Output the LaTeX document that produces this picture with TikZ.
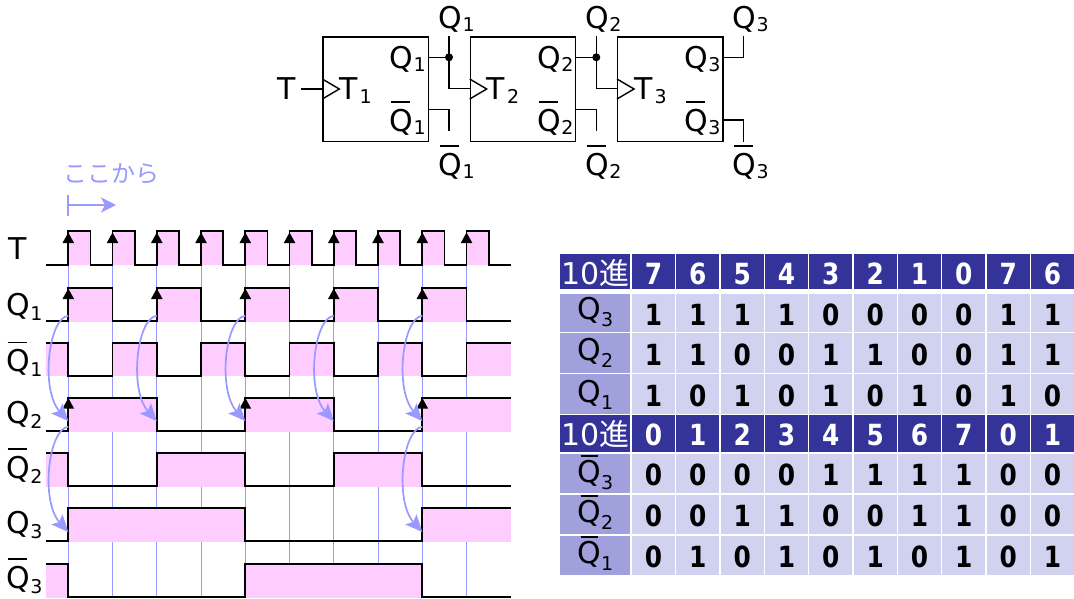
\documentclass[tikz,border=0pt]{standalone}
\usepackage{graphicx}
\usepackage{fontspec}
\setmainfont{DejaVu Sans}
\newfontfamily\cjkf{Noto Sans CJK JP}
\usetikzlibrary{arrows.meta}
\definecolor{pinkf}{HTML}{FFCCFF}
\definecolor{lblue}{HTML}{9999FF}
\definecolor{hdrc}{HTML}{333399}
\definecolor{labc}{HTML}{A0A0DC}
\definecolor{cellc}{HTML}{D1D1F0}
\newcommand\bigf{\fontsize{30}{32}\selectfont}
\newcommand\subf{\fontsize{19}{21}\selectfont}
\newcommand\Qs[2]{Q\kern0.5pt\raisebox{-#2pt}{\subf #1}}
\newcommand\Qb[2]{\makebox[0pt][l]{\kern1.5pt\raisebox{28.5pt}{\rule{19pt}{1.6pt}}}\Qs{#1}{#2}}
\newcommand\Qt[2]{\makebox[0pt][l]{\kern3.5pt\raisebox{25pt}{\rule{17pt}{1.8pt}}}\Qs{#1}{#2}}
\newcommand\dg[1]{\scalebox{0.92}[1.08]{#1}}
\tikzset{
 x=1pt,y=-1pt,
 txt/.style={anchor=base west,inner sep=0pt,font=\bigf,text=black},
 ffbox/.style={draw=black,line width=1.4pt,minimum width=105.3pt,minimum height=104.7pt,inner sep=0pt,anchor=north west},
 conn/.style={line width=1.4pt,black},
 wave/.style={line width=1.7pt,black,line join=miter},
 vline/.style={line width=1.1pt,lblue},
 carrow/.style={line width=1.7pt,lblue,-{Stealth[length=17pt,width=15pt,inset=3.5pt]}},
 hdr/.style={fill=hdrc,text=white,anchor=base,inner sep=0pt,font=\fontsize{27}{30}\selectfont\bfseries},
 hdrl/.style={fill=hdrc,text=white,anchor=base,inner sep=0pt,font=\fontsize{30}{32}\selectfont,minimum width=70.3pt},
 cellb/.style={fill=cellc,text=black,anchor=base,inner sep=0pt,font=\fontsize{27}{30}\selectfont\bfseries},
 labb/.style={fill=labc,text=black,anchor=base,inner sep=0pt,font=\bigf,minimum width=70.3pt},
}
\newcommand\tip[2]{\fill[black] (#1,#2) -- (#1+5.8,#2+10.5) -- (#1-5.8,#2+10.5) -- cycle;}
\begin{document}
\begin{tikzpicture}
\useasboundingbox (0,0) rectangle (1074,598);
% flip-flops
\foreach \n/\bx/\ql/\qx/\tx/\tl/\ex in {1/322.3/389.3/438.3/339/1/449,2/469.7/537/585/486.7/2/596.3,3/617/684/732.3/634/3/743.7}{
  \node[ffbox] (ff\n) at (\bx,36.3) {};
  \node[txt] (qin\n) at (\ql,68) {\Qs{\n}{3}};
  \node[txt] (qbin\n) at (\ql,131.5) {\Qb{\n}{3}};
  \node[txt] (qout\n) at (\qx,28.3) {\Qs{\n}{3}};
  \node[txt] (qbout\n) at (\qx,175) {\Qb{\n}{3}};
  \node[txt] (tin\n) at (\tx,99) {T\kern2pt\raisebox{-4pt}{\subf\n}};
  \draw[conn] (\bx,79) -- (\bx+17,89) -- (\bx,99);
}
\node[txt] (tlab) at (277,99) {T};
\coordinate (tstart) at (301,89);
\draw[conn] (tstart) -- (322.3,89);
% connections
\coordinate (j1) at (449,57.3);
\coordinate (j2) at (596.3,57.3);
\draw[conn] (427.7,57.3) -- (j1);
\draw[conn] (449,36) -- (j1) |- (469.7,88.7);
\fill[black] (j1) circle (4);
\draw[conn] (575,57.3) -- (j2);
\draw[conn] (596.3,36) -- (j2) |- (617,88.7);
\fill[black] (j2) circle (4);
\draw[conn] (722.3,57.3) -| (743.7,36);
\draw[conn] (427.7,109.3) -| (449,130.7);
\draw[conn] (575,109.3) -| (596.3,130.7);
\draw[conn] (722.3,120) -| (743.7,141.7);
% start marker
\node[inner sep=0pt,anchor=base,text=lblue,font=\cjkf\fontsize{24}{26}\selectfont] (koko) at (111.5,182) {ここから};
\draw[line width=1.4pt,lblue] (68,195) -- (68,215.7);
\draw[line width=1.4pt,lblue,-{Stealth[length=15pt,width=15pt,inset=4pt]}] (68,205) -- (116,205);
% vertical guides
\foreach \k in {0,...,9}{
  \pgfmathsetmacro\xx{68.3+44.25*\k}
  \draw[vline] (\xx,232) -- (\xx,598);
}
% pink
\foreach \k in {0,...,9}{
  \pgfmathsetmacro\xx{68.3+44.25*\k}
  \fill[pinkf] (\xx,231.3) rectangle (\xx+22.1,265);
}
\foreach \a/\b in {68.3/112.55,156.8/201.05,245.3/289.55,333.8/378.05,422.3/466.55}
  \fill[pinkf] (\a,288.3) rectangle (\b,322);
\foreach \a/\b in {45.7/68.3,112.55/156.8,201.05/245.3,289.55/333.8,378.05/422.3,466.55/511.3}
  \fill[pinkf] (\a,342.7) rectangle (\b,376.4);
\foreach \a/\b in {68.3/156.8,245.3/333.8,422.3/511.3}
  \fill[pinkf] (\a,397.7) rectangle (\b,431.7);
\foreach \a/\b in {45.7/68.3,156.8/245.3,333.8/422.3}
  \fill[pinkf] (\a,453) rectangle (\b,487);
\foreach \a/\b in {68.3/245.3,422.3/511.3}
  \fill[pinkf] (\a,508.3) rectangle (\b,542);
\foreach \a/\b in {45.7/68.3,245.3/422.3}
  \fill[pinkf] (\a,563.7) rectangle (\b,598);
% waves
\draw[wave] (45.7,265) -| (68.3,231.3) -| (90.4,265) -| (112.55,231.3) -| (134.65,265) -| (156.8,231.3) -| (178.9,265) -| (201.05,231.3) -| (223.15,265) -| (245.3,231.3) -| (267.4,265) -| (289.55,231.3) -| (311.65,265) -| (333.8,231.3) -| (355.9,265) -| (378.05,231.3) -| (400.15,265) -| (422.3,231.3) -| (444.4,265) -| (466.55,231.3) -| (488.65,265) -- (511.3,265);
\draw[wave] (45.7,321.3) -| (68.3,288.3) -| (112.55,321.3) -| (156.8,288.3) -| (201.05,321.3) -| (245.3,288.3) -| (289.55,321.3) -| (333.8,288.3) -| (378.05,321.3) -| (422.3,288.3) -| (466.55,321.3) -- (511.3,321.3);
\draw[wave] (45.7,342.7) -| (68.3,375.7) -| (112.55,342.7) -| (156.8,375.7) -| (201.05,342.7) -| (245.3,375.7) -| (289.55,342.7) -| (333.8,375.7) -| (378.05,342.7) -| (422.3,375.7) -| (466.55,342.7) -- (511.3,342.7);
\draw[wave] (45.7,431) -| (68.3,397.7) -| (156.8,431) -| (245.3,397.7) -| (333.8,431) -| (422.3,397.7) -- (511.3,397.7);
\draw[wave] (45.7,453) -| (68.3,486.3) -| (156.8,453) -| (245.3,486.3) -| (333.8,453) -| (422.3,486.3) -- (511.3,486.3);
\draw[wave] (45.7,541.3) -| (68.3,508.3) -| (245.3,541.3) -| (422.3,508.3) -- (511.3,508.3);
\draw[wave] (45.7,563.7) -| (68.3,596.7) -| (245.3,563.7) -| (422.3,596.7) -- (511.3,596.7);
% black edge marks
\foreach \k in {0,...,9}{
  \pgfmathsetmacro\xx{68.3+44.25*\k}
  \tip{\xx}{232.5}
}
\foreach \xx in {68.3,156.8,245.3,333.8,422.3} {\tip{\xx}{288.5}}
\foreach \xx in {68.3,245.3,422.3} {\tip{\xx}{398}}
% curved arrows
\foreach \xx in {68.3,156.8,245.3,333.8,422.3}
  \draw[carrow] (\xx,315.7) .. controls (\xx-20,318) and (\xx-28,390) .. (\xx,421);
\foreach \xx in {68.3,422.3}
  \draw[carrow] (\xx,426.7) .. controls (\xx-20,429) and (\xx-28,501) .. (\xx,532);
% row labels
\node[txt] (lt) at (8,259) {T};
\node[txt] (l1) at (6,315) {\Qs{1}{5}};
\node[txt] (lb1) at (6,371.7) {\Qb{1}{5}};
\node[txt] (l2) at (6,423) {\Qs{2}{5}};
\node[txt] (lb2) at (6,478) {\Qb{2}{5}};
\node[txt] (l3) at (6,533) {\Qs{3}{5}};
\node[txt] (lb3) at (6,588) {\Qb{3}{5}};
% table headers
\foreach \ty/\by/\bs/\vals/\rn in {254/288.7/284.3/{7,6,5,4,3,2,1,0,7,6}/a,415.3/452.3/445/{0,1,2,3,4,5,6,7,0,1}/e}{
  \pgfmathsetmacro\hh{\bs-\ty}\pgfmathsetmacro\dd{\by-\bs}
  \node[hdrl,text height=\hh pt,text depth=\dd pt] (h\rn) at (595.2,\bs) {\hbox{10\cjkf 進}};
  \foreach \v [count=\c from 0] in \vals {
    \pgfmathsetmacro\xx{653.5+44.33*\c}
    \node[hdr,minimum width=43pt,text height=\hh pt,text depth=\dd pt] (h\rn\c) at (\xx,\bs) {\dg{\v}};
  }
}
% table bodies
\foreach \ty/\by/\bs/\vals/\rn/\lb/\lt in {
 294.3/331.7/325/{1,1,1,1,0,0,0,0,1,1}/b/319/{\Qs{3}{7}},
 333.3/372.7/365.7/{1,1,0,0,1,1,0,0,1,1}/c/360/{\Qs{2}{7}},
 374.3/413.7/406.7/{1,0,1,0,1,0,1,0,1,0}/d/402/{\Qs{1}{7}},
 454/493.3/485.7/{0,0,0,0,1,1,1,1,0,0}/f/482/{\Qt{3}{7}},
 495/534.3/526.7/{0,0,1,1,0,0,1,1,0,0}/g/522/{\Qt{2}{7}},
 536/575/567.7/{0,1,0,1,0,1,0,1,0,1}/h/563/{\Qt{1}{7}}}{
  \pgfmathsetmacro\hh{\lb-\ty}\pgfmathsetmacro\dd{\by-\lb}
  \node[labb,text height=\hh pt,text depth=\dd pt] (l\rn) at (595.2,\lb) {\lt};
  \pgfmathsetmacro\hh{\bs-\ty}\pgfmathsetmacro\dd{\by-\bs}
  \foreach \v [count=\c from 0] in \vals {
    \pgfmathsetmacro\xx{653.5+44.33*\c}
    \node[cellb,minimum width=43pt,text height=\hh pt,text depth=\dd pt] (c\rn\c) at (\xx,\bs) {\dg{\v}};
  }
}
\end{tikzpicture}
\end{document}
